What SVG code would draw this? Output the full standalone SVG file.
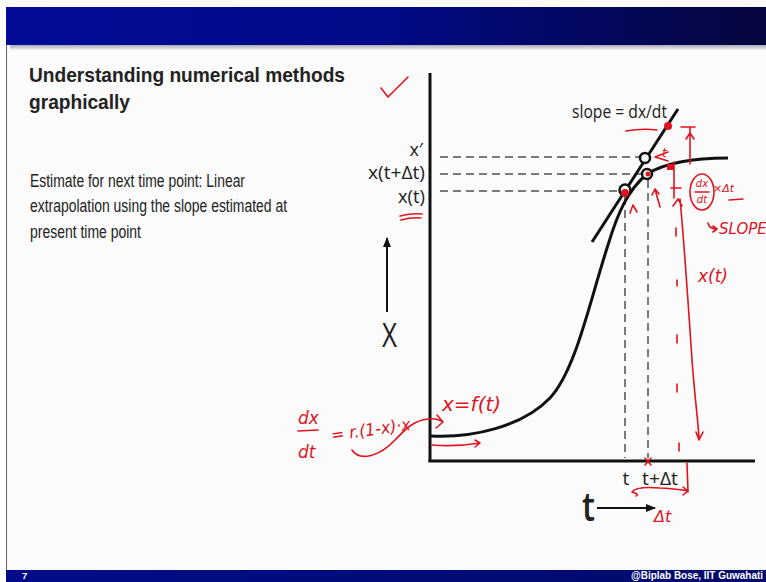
<svg xmlns="http://www.w3.org/2000/svg" width="766" height="582" viewBox="0 0 766 582">
<defs>
<linearGradient id="hdr" x1="0" y1="0" x2="1" y2="0">
<stop offset="0" stop-color="#030b98"/>
<stop offset="0.5" stop-color="#020a86"/>
<stop offset="1" stop-color="#05063e"/>
</linearGradient>
<linearGradient id="ftr" x1="0" y1="0" x2="1" y2="0">
<stop offset="0" stop-color="#020c88"/>
<stop offset="1" stop-color="#020a6a"/>
</linearGradient>
<linearGradient id="shd" x1="0" y1="0" x2="0" y2="1">
<stop offset="0" stop-color="#a9a9b8"/>
<stop offset="1" stop-color="#f2f2f2"/>
</linearGradient>
<marker id="ah" viewBox="0 0 10 10" refX="9" refY="5" markerWidth="10" markerHeight="10" orient="auto" markerUnits="userSpaceOnUse">
<path d="M0,1 L10,5 L0,9 z" fill="#111"/>
</marker>
<style>
.lbl{font-family:"Open Sans","Noto Sans",sans-serif;fill:#222}
.body{font-family:"Liberation Sans",Arial,sans-serif;fill:#222}
.red{stroke:#e0141e;fill:none;stroke-width:1.6;stroke-linecap:round;stroke-linejoin:round}
.rt{font-family:"DejaVu Sans",sans-serif;fill:#e0141e;font-style:italic}
.dash{stroke:#7a7a7a;stroke-width:2;stroke-dasharray:8 5;fill:none}
.blk{stroke:#111;fill:none;stroke-width:3}
</style>
</defs>
<rect width="766" height="582" fill="#fbfbfb"/>
<rect x="0" y="0" width="6" height="582" fill="#ffffff"/>
<!-- header -->
<rect x="6" y="7" width="760" height="38" fill="url(#hdr)"/>
<rect x="10" y="45" width="756" height="5" fill="url(#shd)"/>
<line x1="6.5" y1="45" x2="6.5" y2="571" stroke="#666" stroke-width="1"/>
<!-- footer -->
<rect x="6" y="570" width="760" height="12" fill="url(#ftr)"/>
<text x="22" y="579" font-family="Liberation Sans,Arial,sans-serif" font-weight="bold" font-size="9.5" fill="#fff">7</text>
<text x="631" y="579" font-family="Liberation Sans,Arial,sans-serif" font-weight="bold" font-size="10" fill="#fff" textLength="132" lengthAdjust="spacingAndGlyphs">@Biplab Bose, IIT Guwahati</text>
<!-- title and body -->
<g id="title">
<text class="body" x="29" y="82" font-size="21" font-weight="bold" textLength="316" lengthAdjust="spacingAndGlyphs">Understanding numerical methods</text>
<text class="body" x="29" y="109" font-size="21" font-weight="bold" textLength="101" lengthAdjust="spacingAndGlyphs">graphically</text>
</g>
<g id="body-text">
<text class="body" x="30" y="187" font-size="17.5" textLength="215" lengthAdjust="spacingAndGlyphs">Estimate for next time point: Linear</text>
<text class="body" x="30" y="212" font-size="17.5" textLength="257" lengthAdjust="spacingAndGlyphs">extrapolation using the slope estimated at</text>
<text class="body" x="30" y="238" font-size="17.5" textLength="111" lengthAdjust="spacingAndGlyphs">present time point</text>
</g>
<!-- graph -->
<g id="axes">
<line class="blk" x1="430" y1="73" x2="430" y2="462"/>
<line class="blk" x1="428.5" y1="461" x2="755" y2="461"/>
<line x1="387" y1="312" x2="387" y2="238" stroke="#111" stroke-width="2" marker-end="url(#ah)"/>
<text class="lbl" x="382" y="347" font-size="32" textLength="15" lengthAdjust="spacingAndGlyphs">X</text>
<line x1="597" y1="508" x2="655" y2="508" stroke="#111" stroke-width="2.2" marker-end="url(#ah)"/>
<text class="lbl" x="582" y="521" font-size="40" font-weight="600" textLength="13" lengthAdjust="spacingAndGlyphs">t</text>
</g>
<g id="guides">
<line class="dash" x1="440" y1="157" x2="640" y2="157"/>
<line class="dash" x1="440" y1="174" x2="642" y2="174"/>
<line class="dash" x1="440" y1="191" x2="619" y2="191"/>
<line class="dash" x1="625" y1="197" x2="625" y2="458"/>
<line class="dash" x1="648" y1="180" x2="648" y2="458"/>
</g>
<g id="y-labels">
<text class="lbl" x="423" y="156" font-size="18" text-anchor="end">x′</text>
<text class="lbl" x="425" y="179" font-size="19" text-anchor="end" textLength="57" lengthAdjust="spacingAndGlyphs">x(t+Δt)</text>
<text class="lbl" x="425" y="203" font-size="19" text-anchor="end" textLength="27" lengthAdjust="spacingAndGlyphs">x(t)</text>
</g>
<g id="t-labels">
<text class="lbl" x="626" y="485" font-size="19" text-anchor="middle">t</text>
<text class="lbl" x="660" y="485" font-size="19" text-anchor="middle" textLength="36" lengthAdjust="spacingAndGlyphs">t+Δt</text>
</g>
<g id="curve">
<path class="blk" d="M431,436 C472,438 522,427 550,398 C576,370 590,300 608,245 C618,212 628,190 647,174 C665,163 690,158 728,158"/>
</g>
<g id="tangent">
<line class="blk" x1="592" y1="242" x2="678" y2="109"/>
<text class="lbl" x="572" y="118" font-size="18" textLength="95" lengthAdjust="spacingAndGlyphs">slope = dx/dt</text>
</g>
<g id="points">
<circle cx="645" cy="158" r="5" fill="#fbfbfb" stroke="#111" stroke-width="2.5"/>
<circle cx="647" cy="174" r="5" fill="#fbfbfb" stroke="#111" stroke-width="2.5"/>
<circle cx="625" cy="190" r="5.5" fill="#fbfbfb" stroke="#111" stroke-width="2.5"/>
<circle cx="625" cy="193" r="4" fill="#e0141e"/>
<circle cx="668" cy="126" r="4" fill="#e0141e"/>
<rect x="667" y="164" width="7" height="6" fill="#e0141e"/>
<circle cx="648" cy="174" r="2.5" fill="#e0141e"/>
</g>
<!-- red annotations -->
<g id="annotations">
<path class="red" d="M381,88 L388,97 L408,77"/>
<path class="red" d="M400,216 Q412,213 422,214 M401,220 Q412,217 421,218"/>
<path class="red" d="M626,131 Q642,128 657,130"/>
<path class="red" d="M630,213 L633,205 L637,212"/>
<path class="red" d="M660,207 L655,189 M652,195 L655,189 L659,194"/>
<path class="red" d="M668,152 L655,157 L668,161"/>
<text class="rt" x="662" y="157" font-size="12">t</text>
<path class="red" d="M681,127 L695,127 M690,127 L690,164 M686,139 L690,133 L694,139"/>
<path class="red" d="M674,162 L674,198 M671,188 L681,188"/>
<path class="red" d="M680,199 C683,230 688,300 692,360 C695,400 698,420 699,438 M696,432 L699,440 L703,432 M673,206 L678,199 L682,206"/>
<path class="red" d="M676,228 L676,236 M677,280 L677,286 M677,335 L677,343 M677,384 L677,392 M679,443 L679,451"/>
<ellipse class="red" cx="702" cy="192" rx="12" ry="18"/>
<text class="rt" x="702" y="187" font-size="10" text-anchor="middle">dx</text>
<path class="red" d="M695,192 L709,192"/>
<text class="rt" x="702" y="203" font-size="10" text-anchor="middle">dt</text>
<text class="rt" x="713" y="192" font-size="11">×Δt</text>
<path class="red" d="M729,200 L743,199"/>
<path class="red" d="M708,223 Q709,229 717,229 M713,226 L717,229 L713,232"/>
<text class="rt" x="719" y="234" font-size="15" font-style="normal">SLOPE</text>
<text class="rt" x="698" y="282" font-size="17">x(t)</text>
<path class="red" d="M645,458 L651,465 M651,458 L645,465"/>
<path class="red" d="M687,463 L688,492 M632,492 Q636,486 660,488 Q678,489 688,491 M683,487 L688,491 L683,495 M632,492 Q640,494 636,496"/>
<text class="rt" x="654" y="522" font-size="16">Δt</text>
<text class="rt" x="298" y="424" font-size="17">dx</text>
<path class="red" d="M298,431 L318,430"/>
<text class="rt" x="298" y="458" font-size="17">dt</text>
<text class="rt" x="332" y="441" font-size="17" transform="rotate(-8 332 441)" textLength="80" lengthAdjust="spacingAndGlyphs">= r.(1-x)·x</text>
<path class="red" d="M352,450 C360,462 380,456 395,440 C405,430 412,421 428,419 C436,418 440,420 443,422 M437,415 L443,422 L436,428"/>
<text class="rt" x="442" y="411" font-size="20">x=f(t)</text>
<path class="red" d="M432,445 Q455,447 480,443 M475,440 L480,443 L475,447"/>
</g>
</svg>
